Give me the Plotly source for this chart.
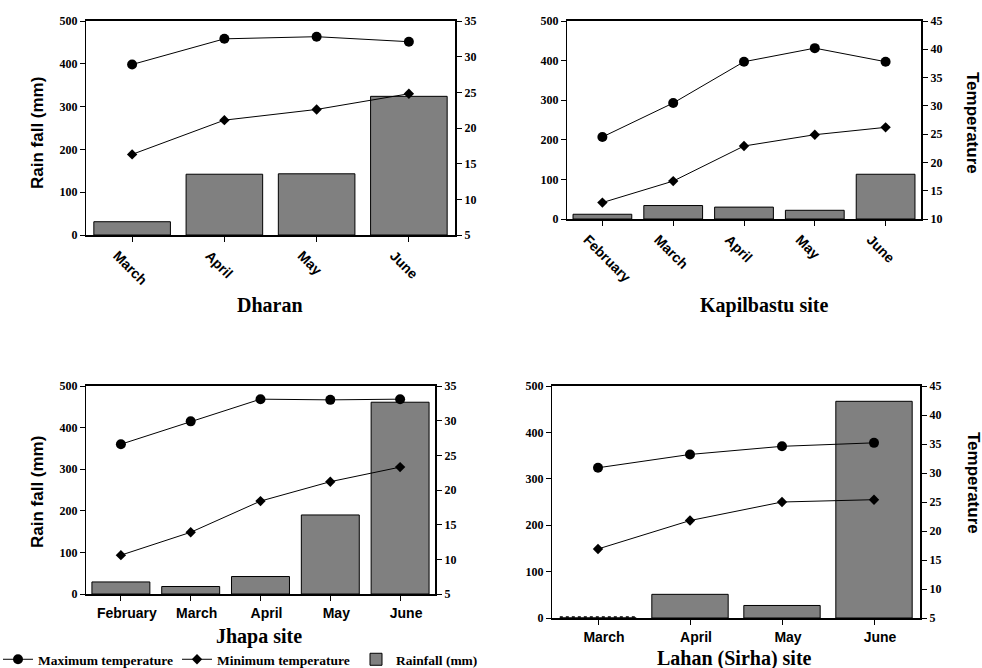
import plotly.graph_objects as go

# ---------------- data ----------------
dharan_months = ["March", "April", "May", "June"]
dharan_rain = [31, 142, 143, 324]
dharan_tmax = [28.9, 32.5, 32.8, 32.1]
dharan_tmin = [16.3, 21.1, 22.6, 24.8]

kapil_months = ["February", "March", "April", "May", "June"]
kapil_rain = [12, 34, 30, 22, 113]
kapil_tmax = [24.5, 30.5, 37.8, 40.2, 37.8]
kapil_tmin = [12.9, 16.7, 22.9, 24.9, 26.2]

jhapa_months = ["February", "March", "April", "May", "June"]
jhapa_rain = [29, 18, 42, 190, 461]
jhapa_tmax = [26.6, 29.9, 33.1, 33.0, 33.1]
jhapa_tmin = [10.6, 13.9, 18.4, 21.2, 23.3]

lahan_months = ["March", "April", "May", "June"]
lahan_rain = [0, 51, 27, 467]
lahan_tmax = [30.9, 33.2, 34.6, 35.2]
lahan_tmin = [16.9, 21.8, 25.0, 25.4]

rain_ticks = [0, 100, 200, 300, 400, 500]

W, H = 982, 668
BAR_W = 0.83
SERIF = "Liberation Serif"
SANS = "Liberation Sans"

fig = go.Figure()


def px_dom_x(a, b):
    return [a / W, b / W]


def px_dom_y(top, bottom):
    return [1 - bottom / H, 1 - top / H]


panels = [
    dict(m=dharan_months, r=dharan_rain, tx=dharan_tmax, tn=dharan_tmin,
         xd=(86, 455), yd=(21, 235), tr=(5, 35), ang=45, shift=-15),
    dict(m=kapil_months, r=kapil_rain, tx=kapil_tmax, tn=kapil_tmin,
         xd=(567, 921), yd=(21, 219), tr=(10, 45), ang=45, shift=-15),
    dict(m=jhapa_months, r=jhapa_rain, tx=jhapa_tmax, tn=jhapa_tmin,
         xd=(86, 435), yd=(386, 594), tr=(5, 35), ang=0, shift=6),
    dict(m=lahan_months, r=lahan_rain, tx=lahan_tmax, tn=lahan_tmin,
         xd=(552, 920), yd=(386, 618), tr=(5, 45), ang=0, shift=6),
]

layout_axes = {}
for i, p in enumerate(panels):
    xi = "" if i == 0 else str(i + 1)
    yl = str(2 * i + 1) if i > 0 else ""
    yr = str(2 * i + 2)
    xs = list(range(len(p["m"])))
    showleg = (i == 2)

    fig.add_trace(go.Bar(
        x=xs, y=p["r"], width=BAR_W, name="Rainfall (mm)",
        marker=dict(color="#808080", line=dict(color="black", width=1)),
        xaxis="x" + xi, yaxis="y" + yl, showlegend=showleg, legendrank=3,
    ))
    # dotted outline for zero-rain bars
    for xv, rv in zip(xs, p["r"]):
        if rv == 0:
            fig.add_trace(go.Scatter(
                x=[xv - BAR_W / 2, xv + BAR_W / 2], y=[rv + 2, rv + 2], mode="lines",
                line=dict(color="black", width=1.5, dash="dot"),
                xaxis="x" + xi, yaxis="y" + yl, showlegend=False, hoverinfo="skip",
            ))
    fig.add_trace(go.Scatter(
        x=xs, y=p["tx"], mode="lines+markers", name="Maximum temperature",
        line=dict(color="black", width=1),
        marker=dict(symbol="circle", size=10, color="black"),
        xaxis="x" + xi, yaxis="y" + yr, showlegend=showleg, legendrank=1,
    ))
    fig.add_trace(go.Scatter(
        x=xs, y=p["tn"], mode="lines+markers", name="Minimum temperature",
        line=dict(color="black", width=1),
        marker=dict(symbol="diamond", size=8, color="black"),
        xaxis="x" + xi, yaxis="y" + yr, showlegend=showleg, legendrank=2,
    ))

    layout_axes["xaxis" + xi] = dict(
        domain=px_dom_x(*p["xd"]), anchor="y" + yl,
        range=[-0.5, len(xs) - 0.5], tickvals=xs, ticktext=p["m"],
        tickangle=p["ang"], ticks="outside", ticklen=5, tickcolor="black",
        showline=True, linecolor="black", linewidth=2, mirror=True,
        showgrid=False, zeroline=False, ticklabelshift=p["shift"],
        automargin=False,
        tickfont=dict(family=SANS, size=14, color="black", weight="bold"),
    )
    layout_axes["yaxis" + yl] = dict(
        domain=px_dom_y(*p["yd"]), anchor="x" + xi,
        range=[0, 500], tickvals=rain_ticks,
        ticks="outside", ticklen=5, tickcolor="black",
        showline=True, linecolor="black", linewidth=1,
        showgrid=False, zeroline=False, automargin=False,
        tickfont=dict(family=SERIF, size=12, color="black", weight="bold"),
    )
    t0, t1 = p["tr"]
    layout_axes["yaxis" + yr] = dict(
        domain=px_dom_y(*p["yd"]), anchor="x" + xi, overlaying="y" + yl, side="right",
        range=[t0, t1], tickvals=list(range(t0, t1 + 1, 5)),
        ticks="outside", ticklen=5, tickcolor="black",
        showline=True, linecolor="black", linewidth=2,
        showgrid=False, zeroline=False, automargin=False,
        tickfont=dict(family=SERIF, size=12, color="black", weight="bold"),
    )

annotations = []
titles = [("Dharan", 270, 305), ("Kapilbastu site", 764, 305),
          ("Jhapa site", 259, 636), ("Lahan (Sirha) site", 734, 658)]
for txt, x, y in titles:
    annotations.append(dict(text=txt, x=x / W, y=1 - y / H, xref="paper", yref="paper",
                            showarrow=False, xanchor="center", yanchor="middle",
                            font=dict(family=SERIF, size=20, color="black", weight="bold")))
for x, y in [(37, 133), (37, 492)]:
    annotations.append(dict(text="Rain fall (mm)", x=x / W, y=1 - y / H, xref="paper", yref="paper",
                            showarrow=False, textangle=-90, xanchor="center", yanchor="middle",
                            font=dict(family=SANS, size=17, color="black", weight="bold")))
for x, y in [(973, 123), (973, 483)]:
    annotations.append(dict(text="Temperature", x=x / W, y=1 - y / H, xref="paper", yref="paper",
                            showarrow=False, textangle=90, xanchor="center", yanchor="middle",
                            font=dict(family=SANS, size=17, color="black", weight="bold")))

fig.update_layout(
    width=W, height=H, margin=dict(l=0, r=0, t=0, b=0, pad=0, autoexpand=False),
    paper_bgcolor="white", plot_bgcolor="white",
    barmode="overlay",
    showlegend=True,
    legend=dict(orientation="h", x=0, y=1 - 644 / H, xanchor="left", yanchor="top",
                indentation=-2,
                entrywidth=136, entrywidthmode="pixels",
                font=dict(family=SERIF, size=13.5, color="black", weight="bold"),
                bgcolor="rgba(0,0,0,0)", traceorder="normal"),
    annotations=annotations,
    **layout_axes,
)

fig.write_html(
    "out.html",
    config={"displayModeBar": False},
    post_script="document.body.style.margin='0';document.body.style.overflow='hidden';",
)
